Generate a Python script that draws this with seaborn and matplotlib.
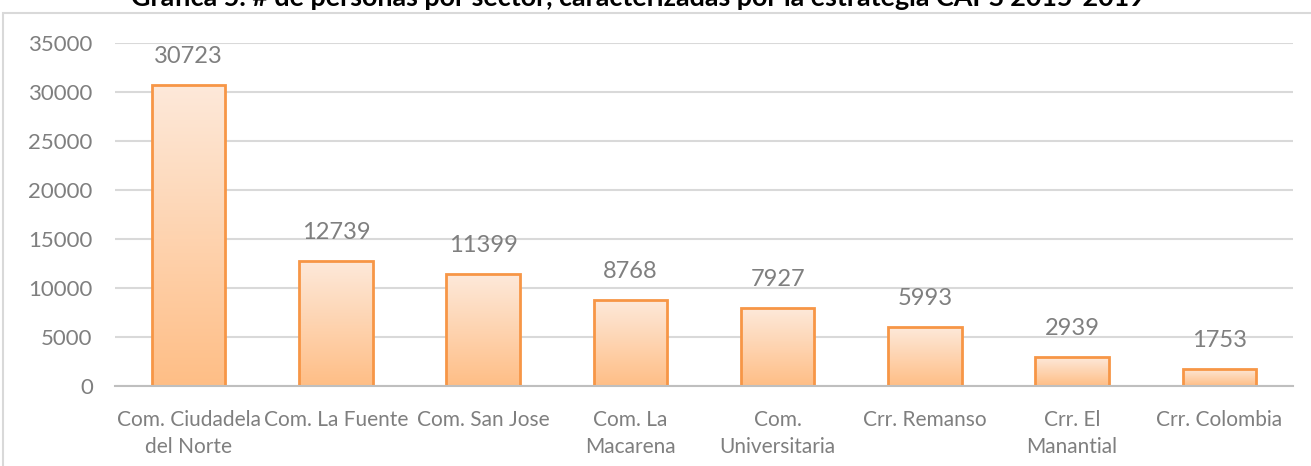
import numpy as np
import pandas as pd
import matplotlib
matplotlib.use("Agg")
import matplotlib.pyplot as plt
import seaborn as sns
from matplotlib.colors import LinearSegmentedColormap
from matplotlib.patches import Rectangle

categories = ["Com. Ciudadela\ndel Norte", "Com. La Fuente", "Com. San Jose",
              "Com. La\nMacarena", "Com.\nUniversitaria", "Crr. Remanso",
              "Crr. El\nManantial", "Crr. Colombia"]
values = [30723, 12739, 11399, 8768, 7927, 5993, 2939, 1753]
yticks = [0, 5000, 10000, 15000, 20000, 25000, 30000, 35000]
title = "Gráfica 5. # de personas por sector, caracterizadas por la estrategia CAPS 2015-2019"

sns.set_theme(style="white")
plt.rcParams['font.family'] = ['Lato', 'DejaVu Sans']

df = pd.DataFrame({"sector": categories, "personas": values})

fig = plt.figure(figsize=(13.11, 4.66), dpi=100)
ax = fig.add_axes([115/1311, 1-386/466, (1293-115)/1311, (386-43)/466])

sns.barplot(data=df, x="sector", y="personas", ax=ax, width=0.5,
            color="#FCD5B4", edgecolor="#F79646", linewidth=2, saturation=1, zorder=3)

cmap = LinearSegmentedColormap.from_list("g", ["#FFBE86", "#FDE9DA"])
grad = np.linspace(0, 1, 256).reshape(-1, 1)
for p in ax.patches:
    x0, y0 = p.get_x(), p.get_y()
    w, h = p.get_width(), p.get_height()
    im = ax.imshow(grad, cmap=cmap, origin="lower", aspect="auto",
                   extent=(x0, x0 + w, y0, y0 + h), zorder=3.5)
    im.set_clip_path(p)
    p.set_facecolor("none")
    p.set_zorder(4)

ax.set_xlim(-0.5, len(categories) - 0.5)
ax.set_ylim(0, 35000)
ax.set_yticks(yticks)
ax.set_yticklabels([str(v) for v in yticks])
ax.yaxis.grid(True, color="#D9D9D9", linewidth=1.5, zorder=0)
ax.set_axisbelow(True)
for s in ["top", "right", "left"]:
    ax.spines[s].set_visible(False)
ax.spines["bottom"].set_color("#BFBFBF")
ax.spines["bottom"].set_linewidth(1.5)
ax.spines["bottom"].set_zorder(5)
ax.set_xlabel("")
ax.set_ylabel("")

ax.tick_params(axis="y", length=0, labelsize=16, labelcolor="#7F7F7F", pad=16)
ax.set_xticks(range(len(categories)))
ax.set_xticklabels(categories)
ax.tick_params(axis="x", length=0, labelsize=15, labelcolor="#7F7F7F", pad=17)
for lbl in ax.get_xticklabels():
    lbl.set_linespacing(1.45)
ax.set_xticks(np.arange(-0.5, len(categories), 1.0), minor=True)
ax.tick_params(axis="x", which="minor", length=7, width=1.5, color="#BFBFBF", direction="out")

for i, v in enumerate(values):
    ax.annotate(str(v), xy=(i, v), xytext=(0, 13), textcoords="offset points",
                ha="center", va="bottom", fontsize=17, color="#7F7F7F")

fig.text(638/1311, 1 - 6/466, title, ha="center", va="baseline",
         fontsize=19.4, fontweight="bold", color="black")

fig.add_artist(Rectangle((3/1311, -0.1), 1.2, 1.1 - 13/466, transform=fig.transFigure,
                         fill=False, edgecolor="#D9D9D9", linewidth=1.5))

fig.savefig("out.png", dpi=100)
